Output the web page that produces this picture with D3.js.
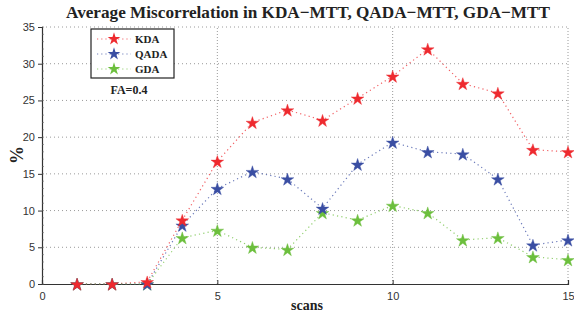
<!DOCTYPE html>
<html><head><meta charset="utf-8">
<script src="https://cdn.jsdelivr.net/npm/d3@7"></script>
<style>body{margin:0;background:#fff}svg{display:block}</style>
</head><body>
<svg id="c" width="574" height="316"></svg>
<script>
const scans = [1,2,3,4,5,6,7,8,9,10,11,12,13,14,15];
const kda  = [0,0,0.3,8.7,16.7,22,23.7,22.3,25.3,28.3,32,27.3,26,18.3,18];
const qada = [0,0,0,8,13,15.3,14.3,10.3,16.3,19.3,18,17.7,14.3,5.3,6];
const gda  = [0,0,0,6.3,7.3,5,4.7,9.7,8.7,10.7,9.7,6,6.3,3.7,3.3];
const seriesNames = ["KDA","QADA","GDA"];
const xTicks = [0,5,10,15];
const yTicks = [0,5,10,15,20,25,30,35];
const colors = ["#ee2a2f","#3a4ea3","#6cbf3d"];

const svg = d3.select("#c");
const x = d3.scaleLinear().domain([0,15]).range([42,568]);
const y = d3.scaleLinear().domain([0,35]).range([284,27]);

// grid
const g = svg.append("g");
g.selectAll(".hg").data(yTicks.filter(d=>d>0)).join("line")
 .attr("x1",x(0)).attr("x2",x(15)).attr("y1",d=>y(d)).attr("y2",d=>y(d))
 .attr("stroke","#9a9a9a").attr("stroke-width",1).attr("stroke-dasharray","1,3");
g.selectAll(".vg").data(xTicks.filter(d=>d>0)).join("line")
 .attr("x1",d=>x(d)).attr("x2",d=>x(d)).attr("y1",y(0)).attr("y2",y(35))
 .attr("stroke","#9a9a9a").attr("stroke-width",1).attr("stroke-dasharray","1,2");

// axes
const xa = svg.append("g").attr("transform",`translate(0,${y(0)})`)
 .call(d3.axisBottom(x).tickValues(xTicks).tickSize(-4).tickPadding(8));
const ya = svg.append("g").attr("transform",`translate(${x(0)},0)`)
 .call(d3.axisLeft(y).tickValues(yTicks).tickSize(4).tickPadding(3));
[xa,ya].forEach(a=>{
  a.select(".domain").attr("stroke","#333").attr("stroke-width",1.2);
  a.selectAll(".tick line").attr("stroke","#333");
  a.selectAll("text").attr("font-family","Liberation Sans, Arial, sans-serif")
   .attr("font-size",11).attr("fill","#333");
});
// minor ticks y
svg.append("g").selectAll("line").data(d3.range(0,35.01,1)).join("line")
 .attr("x1",x(0)).attr("x2",x(0)+2).attr("y1",d=>y(d)).attr("y2",d=>y(d))
 .attr("stroke","#666").attr("stroke-width",0.6);

// lines & stars
const line = d3.line().x((d,i)=>x(scans[i])).y(d=>y(d));
const star = d3.symbol().type(d3.symbolStar).size(50);
[kda,qada,gda].forEach((s,k)=>{
  svg.append("path").datum(s).attr("d",line).attr("fill","none")
   .attr("stroke",colors[k]).attr("stroke-opacity",0.75).attr("stroke-width",1.2)
   .attr("stroke-dasharray","1.2,3.2");
});
[gda,qada,kda].forEach((s,kk)=>{
  const k = 2-kk;
  svg.append("g").selectAll("path").data(s).join("path")
   .attr("d",star).attr("transform",(d,i)=>`translate(${x(scans[i])},${y(d)+0.8})`)
   .attr("fill",colors[k]).attr("stroke",colors[k]).attr("stroke-opacity",0.5).attr("stroke-width",0.8);
});

// title & labels
const serif = "Liberation Serif, Times New Roman, serif";
svg.append("text").attr("x",308).attr("y",18).attr("text-anchor","middle")
 .attr("font-family",serif).attr("font-weight","bold").attr("font-size",17.2).attr("fill","#222")
 .text("Average Miscorrelation in KDA\u2212MTT, QADA\u2212MTT, GDA\u2212MTT");
svg.append("text").attr("x",307).attr("y",310).attr("text-anchor","middle")
 .attr("font-family",serif).attr("font-weight","bold").attr("font-size",14).attr("fill","#222").text("scans");
svg.append("text").attr("transform","translate(23,155) rotate(-90)").attr("text-anchor","middle")
 .attr("font-family",serif).attr("font-weight","bold").attr("font-size",18).attr("fill","#222").text("%");

// legend
const lg = svg.append("g");
lg.append("rect").attr("x",91).attr("y",29).attr("width",83).attr("height",49)
 .attr("fill","#fff").attr("stroke","#222").attr("stroke-width",1.2);
seriesNames.forEach((n,k)=>{
  const yy = 39 + k*15;
  lg.append("line").attr("x1",97).attr("x2",131).attr("y1",yy).attr("y2",yy)
   .attr("stroke",colors[k]).attr("stroke-opacity",0.7).attr("stroke-width",1.2).attr("stroke-dasharray","1.2,3");
  lg.append("path").attr("d",star).attr("transform",`translate(114,${yy})`).attr("fill",colors[k]);
  lg.append("text").attr("x",135).attr("y",yy+4).attr("font-family",serif).attr("font-weight","bold")
   .attr("font-size",11).attr("fill","#222").text(n);
});
svg.append("text").attr("x",129).attr("y",94).attr("text-anchor","middle").attr("font-family",serif)
 .attr("font-weight","bold").attr("font-size",12).attr("fill","#222").text("FA=0.4");
</script>
</body></html>
